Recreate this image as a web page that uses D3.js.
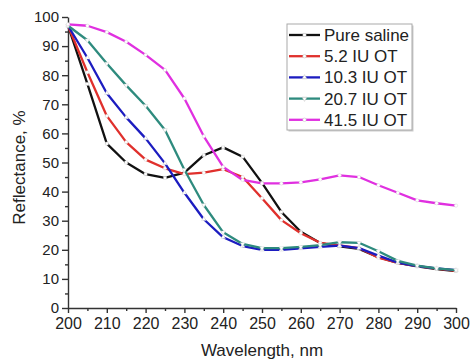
<!DOCTYPE html>
<html>
<head>
<meta charset="utf-8">
<script src="https://cdn.jsdelivr.net/npm/d3@7"></script>
<style>
  body { margin: 0; background: #fff; }
  text { font-family: "Liberation Sans", Arial, sans-serif; fill: #222; }
</style>
</head>
<body>
<div id="container"></div>
<script>
// wavelengths (nm), one point every 5 nm
const wavelength = [200, 205, 210, 215, 220, 225, 230, 235, 240, 245, 250, 255, 260, 265, 270, 275, 280, 285, 290, 295, 300]

// reflectance (%) per series
const pureSaline = [97, 77, 56.5, 50, 46, 44.7, 46.5, 52.5, 55.2, 52, 43, 33, 26.2, 22.3, 21.2, 20.3, 17.5, 15.5, 14.3, 13.4, 12.7]
const ot52 = [97, 81, 66, 57, 51, 48, 46, 46.5, 47.7, 45, 37.7, 30.2, 25.7, 22.4, 21.5, 20.6, 17.3, 15.5, 14.4, 13.5, 12.8]
const ot103 = [97, 86, 73.8, 65.5, 58.3, 49.7, 39.6, 30.5, 24.3, 21.3, 20, 20, 20.5, 21, 21.4, 20.6, 18, 15.6, 14.4, 13.6, 13]
const ot207 = [97, 92, 84, 76.5, 69.5, 61.2, 47.5, 35.4, 26, 22, 20.6, 20.6, 21, 21.6, 22.6, 22.4, 19.5, 16.2, 14.6, 13.6, 13]
const ot415 = [97.5, 97, 94.8, 91.5, 87, 81.8, 72, 59, 48.5, 44, 42.8, 42.8, 43.2, 44.2, 45.6, 45, 42.2, 39.6, 37, 36, 35.2]

const seriesNames = ["Pure saline", "5.2 IU OT", "10.3 IU OT", "20.7 IU OT", "41.5 IU OT"]
const seriesValues = [pureSaline, ot52, ot103, ot207, ot415]
const seriesColors = ["#111111", "#e0302c", "#1c1cc0", "#2e8b7e", "#e030e0"]
const markerTypes = [d3.symbolSquare, d3.symbolCircle, d3.symbolTriangle, d3.symbolTriangle, d3.symbolCircle]

const xTicks = [200, 210, 220, 230, 240, 250, 260, 270, 280, 290, 300]
const yTicks = [0, 10, 20, 30, 40, 50, 60, 70, 80, 90, 100]

const width = 470
const height = 360
const margin = { left: 68, right: 14, top: 17, bottom: 52 }

const x = d3.scaleLinear([200, 300], [margin.left, width - margin.right])
const y = d3.scaleLinear([0, 100], [height - margin.bottom, margin.top])

const svg = d3.create("svg")
  .attr("width", width)
  .attr("height", height)
  .attr("viewBox", [0, 0, width, height])

/* eixos */
const xAxis = svg.append("g")
  .attr("transform", `translate(0,${y(0)})`)
  .call(d3.axisBottom(x).tickValues(xTicks).tickSize(5).tickSizeOuter(0).tickPadding(5))
xAxis.selectAll("text").style("font-size", "16px")

svg.append("g")
  .attr("transform", `translate(0,${y(0)})`)
  .call(d3.axisBottom(x).tickValues(d3.range(205, 300, 10)).tickSize(3).tickFormat(""))
  .call(g => g.select(".domain").remove())

const yAxis = svg.append("g")
  .attr("transform", `translate(${x(200)},0)`)
  .call(d3.axisLeft(y).tickValues(yTicks).tickSize(6).tickSizeOuter(0).tickPadding(3))
yAxis.selectAll("text").style("font-size", "15px")

svg.append("g")
  .attr("transform", `translate(${x(200)},0)`)
  .call(d3.axisLeft(y).tickValues(d3.range(5, 100, 10)).tickSize(3).tickFormat(""))
  .call(g => g.select(".domain").remove())

svg.selectAll(".domain, .tick line").attr("stroke", "#333").attr("stroke-width", 1.4)
svg.selectAll(".tick text").attr("fill", "#222")

/* títulos dos eixos */
svg.append("text")
  .attr("x", (x(200) + x(300)) / 2)
  .attr("y", 356)
  .attr("text-anchor", "middle")
  .style("font-size", "17px")
  .text("Wavelength, nm")

svg.append("text")
  .attr("transform", `translate(25,${(y(0) + y(100)) / 2 + 5}) rotate(-90)`)
  .attr("text-anchor", "middle")
  .style("font-size", "17px")
  .text("Reflectance, %")

/* linhas */
const line = d3.line()
  .x((d, i) => x(wavelength[i]))
  .y(d => y(d))

seriesValues.forEach((vals, k) => {
  svg.append("path")
    .datum(vals)
    .attr("fill", "none")
    .attr("stroke", seriesColors[k])
    .attr("stroke-width", 2.3)
    .attr("stroke-linejoin", "round")
    .attr("d", line)

  svg.append("g")
    .selectAll("path")
    .data(vals)
    .join("path")
    .attr("transform", (d, i) => `translate(${x(wavelength[i])},${y(d)})` + (k === 3 ? " rotate(180)" : ""))
    .attr("d", d3.symbol(markerTypes[k], 9))
    .attr("fill", "#fff")
    .attr("stroke", "#ccc")
    .attr("stroke-width", 0.4)
})

/* legenda */
const legend = svg.append("g").attr("transform", "translate(287,24)")
legend.append("rect")
  .attr("x", 1.5).attr("y", 1.5)
  .attr("width", 125).attr("height", 106)
  .attr("fill", "#ccc")
legend.append("rect")
  .attr("width", 125).attr("height", 106)
  .attr("fill", "#fff")
  .attr("stroke", "#aaa")
  .attr("stroke-width", 1)

seriesNames.forEach((name, k) => {
  const yy = 11 + k * 21.2
  legend.append("line")
    .attr("x1", 2).attr("x2", 33)
    .attr("y1", yy).attr("y2", yy)
    .attr("stroke", seriesColors[k])
    .attr("stroke-width", 2.3)
  legend.append("path")
    .attr("transform", `translate(17.5,${yy})` + (k === 3 ? " rotate(180)" : ""))
    .attr("d", d3.symbol(markerTypes[k], 10))
    .attr("fill", "#fff")
    .attr("stroke", "#bbb")
    .attr("stroke-width", 0.5)
  legend.append("text")
    .attr("x", 37)
    .attr("y", yy + 6)
    .style("font-size", "17px")
    .text(name)
})

document.getElementById("container").append(svg.node())
</script>
</body>
</html>
